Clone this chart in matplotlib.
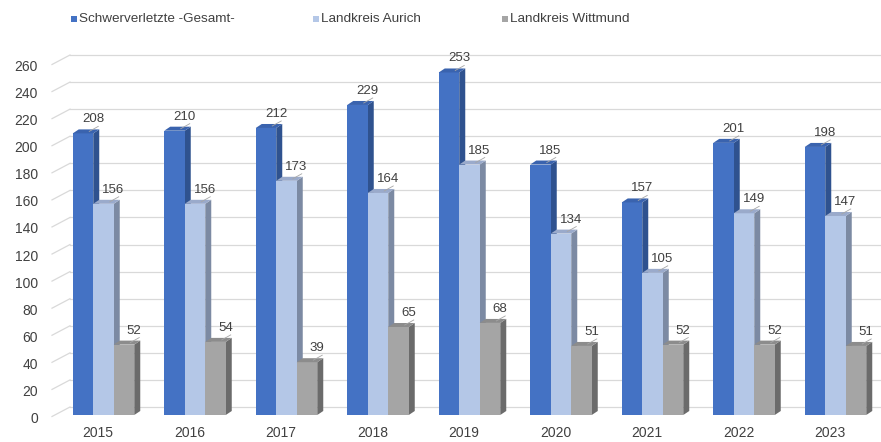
import matplotlib
matplotlib.use("Agg")
import matplotlib.pyplot as plt
import matplotlib.transforms as mtransforms
from matplotlib.patches import Polygon, Rectangle
import numpy as np

years = ["2015", "2016", "2017", "2018", "2019", "2020", "2021", "2022", "2023"]
gesamt = [208, 210, 212, 229, 253, 185, 157, 201, 198]
aurich = [156, 156, 173, 164, 185, 134, 105, 149, 147]
wittmund = [52, 54, 39, 65, 68, 51, 52, 52, 51]
series_names = ["Schwerverletzte -Gesamt-", "Landkreis Aurich", "Landkreis Wittmund"]
yticks = list(range(0, 261, 20))

plt.rcParams['font.family'] = ['Liberation Sans', 'DejaVu Sans']

W, H = 881, 442
fig = plt.figure(figsize=(W / 100, H / 100), dpi=100)
ax_l, ax_r = 52, 880
y0_px = 415
ppu = (417 - 65) / 260.0
ytop = 270
ax_top_px = y0_px - ytop * ppu
ax = fig.add_axes([ax_l / W, (H - y0_px) / H, (ax_r - ax_l) / W, (y0_px - ax_top_px) / H])

xscale = 91.5
xmin = -(98 - ax_l) / xscale
xmax = 8 + (ax_r - 830) / xscale
ax.set_xlim(xmin, xmax)
ax.set_ylim(0, ytop)

fronts = ["#4472C4", "#B4C7E7", "#A5A5A5"]
sides = ["#2F528F", "#7C8AA3", "#6B6B6B"]
tops = ["#3A63AE", "#9AAACB", "#8C8C8C"]

bw = 20.5 / xscale
dx = 6 / xscale
dy = 4 / ppu
x = np.arange(len(years))
shift = 5.5 / xscale
offsets = [-bw + shift, shift, bw + shift]

# back-wall gridlines with diagonal connectors
wall_dx = 18 / xscale
wall_dy = 9.5 / ppu
for t in yticks:
    ax.plot([xmin, xmin + wall_dx], [t - 1.5 / ppu, t - 1.5 / ppu + wall_dy], color="#D9D9D9", lw=0.9, zorder=0, clip_on=False)
    ax.plot([xmin + wall_dx, xmax], [t - 1.5 / ppu + wall_dy] * 2, color="#D9D9D9", lw=0.9, zorder=0, clip_on=False)

for si, vals in enumerate([gesamt, aurich, wittmund]):
    xs = x + offsets[si]
    ax.bar(xs, vals, width=bw, color=fronts[si], zorder=2 + si * 0.1, linewidth=0)
    for xi, v in zip(xs, vals):
        right = xi + bw / 2
        left = xi - bw / 2
        side = Polygon([[right, 0], [right + dx, dy], [right + dx, v + dy], [right, v]],
                       closed=True, facecolor=sides[si], edgecolor="none", zorder=1.9 + si * 0.1)
        top = Polygon([[left, v], [left + dx, v + dy], [right + dx, v + dy], [right, v]],
                      closed=True, facecolor=tops[si], edgecolor="none", zorder=2.05 + si * 0.1)
        ax.add_patch(side)
        ax.add_patch(top)
        lx = xi + 10 / xscale
        ly = v + 8 / ppu
        ax.plot([right - 4 / xscale, right + 5 / xscale], [v + 2 / ppu, v + 7 / ppu], color="#A6A6A6", lw=0.6, zorder=3)
        ax.text(lx, ly, str(v), ha="center", va="bottom", fontsize=9.5, color="#404040", zorder=4)

ax.set_yticks(yticks)
ax.set_yticklabels([str(t) for t in yticks], fontsize=10, color="#404040")
ax.set_xticks(x)
ax.set_xticklabels(years, fontsize=10, color="#404040")
ax.tick_params(axis="both", length=0)
ax.tick_params(axis="y", pad=10)
ax.tick_params(axis="x", pad=8)
down = mtransforms.ScaledTranslation(0, -2.5 / 100, fig.dpi_scale_trans)
for lbl in ax.get_yticklabels():
    lbl.set_transform(lbl.get_transform() + down)
for s in ax.spines.values():
    s.set_visible(False)

# legend, placed manually
leg_sq_x = [71, 313, 502]
leg_y = 19
for px, name, c in zip(leg_sq_x, series_names, fronts):
    fig.patches.append(Rectangle((px / W, (H - leg_y - 3) / H), 6 / W, 6 / H,
                                 transform=fig.transFigure, facecolor=c, edgecolor="none"))
    fig.text((px + 8) / W, (H - leg_y) / H, name, ha="left", va="center", fontsize=9.7, color="#404040")

fig.savefig("out.png", dpi=100)
